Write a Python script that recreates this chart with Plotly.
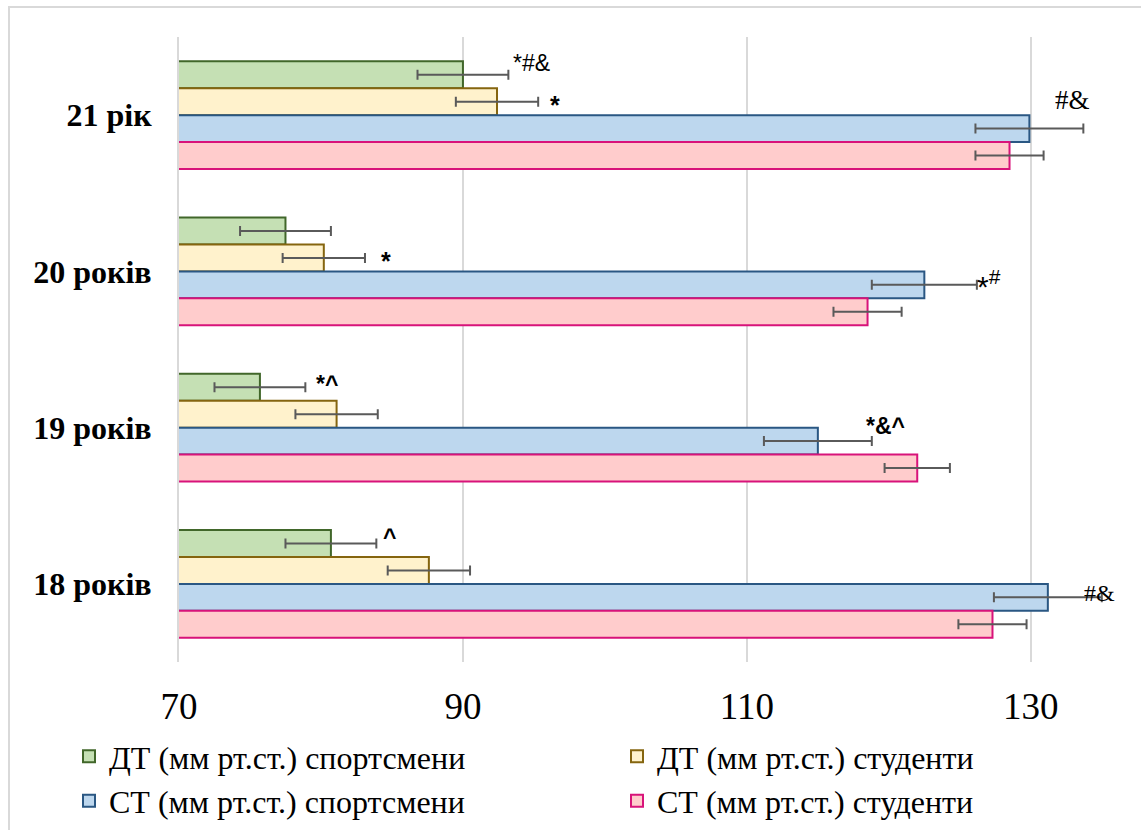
import plotly.graph_objects as go

# Age groups (top to bottom on the chart)
ages = ["21 рік", "20 років", "19 років", "18 років"]

series_names = [
    "ДТ (мм рт.ст.) спортсмени",
    "ДТ (мм рт.ст.) студенти",
    "СТ (мм рт.ст.) спортсмени",
    "СТ (мм рт.ст.) студенти",
]

# Mean values per age group, same order as `ages`
dt_athletes = [90.0, 77.5, 75.7, 80.7]
dt_students = [92.4, 80.2, 81.1, 87.6]
st_athletes = [129.9, 122.5, 115.0, 131.2]
st_students = [128.5, 118.5, 122.0, 127.3]

# Standard errors
dt_athletes_err = [3.2, 3.2, 3.2, 3.2]
dt_students_err = [2.9, 2.9, 2.9, 2.9]
st_athletes_err = [3.8, 3.7, 3.8, 3.8]
st_students_err = [2.4, 2.4, 2.3, 2.4]

# Significance marks: (age, series index, text)
marks = [
    ("21 рік", 0, "*#&"),
    ("21 рік", 1, "*"),
    ("21 рік", 2, "#&"),
    ("20 років", 1, "*"),
    ("20 років", 2, "*<sup>#</sup>"),
    ("19 років", 0, "*^"),
    ("19 років", 2, "*&^"),
    ("18 років", 0, "^"),
    ("18 років", 2, "#&"),
]

x_ticks = [70, 90, 110, 130]

values = [dt_athletes, dt_students, st_athletes, st_students]
errors = [dt_athletes_err, dt_students_err, st_athletes_err, st_students_err]
fills = ["#c5e0b4", "#fff2cc", "#bdd7ee", "#ffcccc"]
edges = ["#41672a", "#85650f", "#2a5783", "#d8137a"]

fig = go.Figure()
for name, vals, errs, fc, ec in zip(series_names, values, errors, fills, edges):
    fig.add_trace(go.Bar(
        y=ages, x=vals, orientation="h", name=name,
        marker=dict(color=fc, line=dict(color=ec, width=2)),
        error_x=dict(type="data", array=errs, color="#5a5a5a",
                     thickness=2, width=5),
    ))

# label placement per mark: (xanchor, xshift, yshift, font)
sans = dict(family="Liberation Sans, Arial", size=23, color="black")
sans_b = dict(sans, weight="bold")
serif = dict(family="Liberation Serif, Times New Roman", size=27, color="black")
bar_px = 27.0
style = {
    ("21 рік", 0): ("left", 3, 12, sans),
    ("21 рік", 1): ("left", 10, -3, dict(sans_b, size=25)),
    ("21 рік", 2): ("right", 9, 29, serif),
    ("20 років", 1): ("left", 14, -3, dict(sans_b, size=25)),
    ("20 років", 2): ("left", -2, 1, dict(sans, size=30)),
    ("19 років", 0): ("left", 9, 3, sans_b),
    ("19 років", 2): ("left", -8, 15, sans_b),
    ("18 років", 0): ("left", 5, 6, sans_b),
    ("18 років", 2): ("left", -20, 4, dict(serif, size=24)),
}
for age, si, txt in marks:
    i = ages.index(age)
    xa, xs, ys, f = style[(age, si)]
    y_off = (1.5 - si) * bar_px  # bar centre offset within the group (px, up)
    fig.add_annotation(
        x=values[si][i] + errors[si][i], y=age, text=txt, showarrow=False,
        xanchor=xa, yanchor="middle", xshift=xs, yshift=y_off + ys, font=f,
    )

L, R, T, B = 179, 25, 37, 168
W, H = 1141, 830
pw, ph = W - L - R, H - T - B
fig.add_shape(
    type="rect", xref="paper", yref="paper",
    x0=(9 - L) / pw, x1=(W + 10 - L) / pw,
    y0=-(H + 10 - T - ph) / ph, y1=(H - B - 7) / ph,
    line=dict(color="#d9d9d9", width=2), fillcolor="rgba(0,0,0,0)",
)

fig.update_layout(
    width=W, height=H,
    margin=dict(l=L, r=R, t=T, b=B, autoexpand=False),
    paper_bgcolor="white", plot_bgcolor="white",
    barmode="group", bargap=0.31, bargroupgap=0,
    font=dict(family="Liberation Serif, Times New Roman", color="black"),
    xaxis=dict(
        range=[70, 136], tickvals=x_ticks, ticks="",
        showgrid=True, gridcolor="#d9d9d9", gridwidth=2,
        zeroline=False, showline=False,
        tickfont=dict(size=37), ticklabelstandoff=19,
    ),
    yaxis=dict(
        categoryorder="array", categoryarray=ages, autorange="reversed",
        showline=True, linecolor="#d9d9d9", linewidth=2, ticks="",
        tickfont=dict(size=32, weight="bold",
                      family="Liberation Serif, Times New Roman"),
        ticklabelstandoff=19,
    ),
    legend=dict(
        orientation="h", x=(69 - L) / pw, xanchor="left",
        y=-0.107, yanchor="top",
        font=dict(size=32, family="Liberation Serif, Times New Roman"),
        entrywidth=503, entrywidthmode="pixels", tracegroupgap=0,
    ),
    showlegend=True,
)

fig.write_html("out.html")
